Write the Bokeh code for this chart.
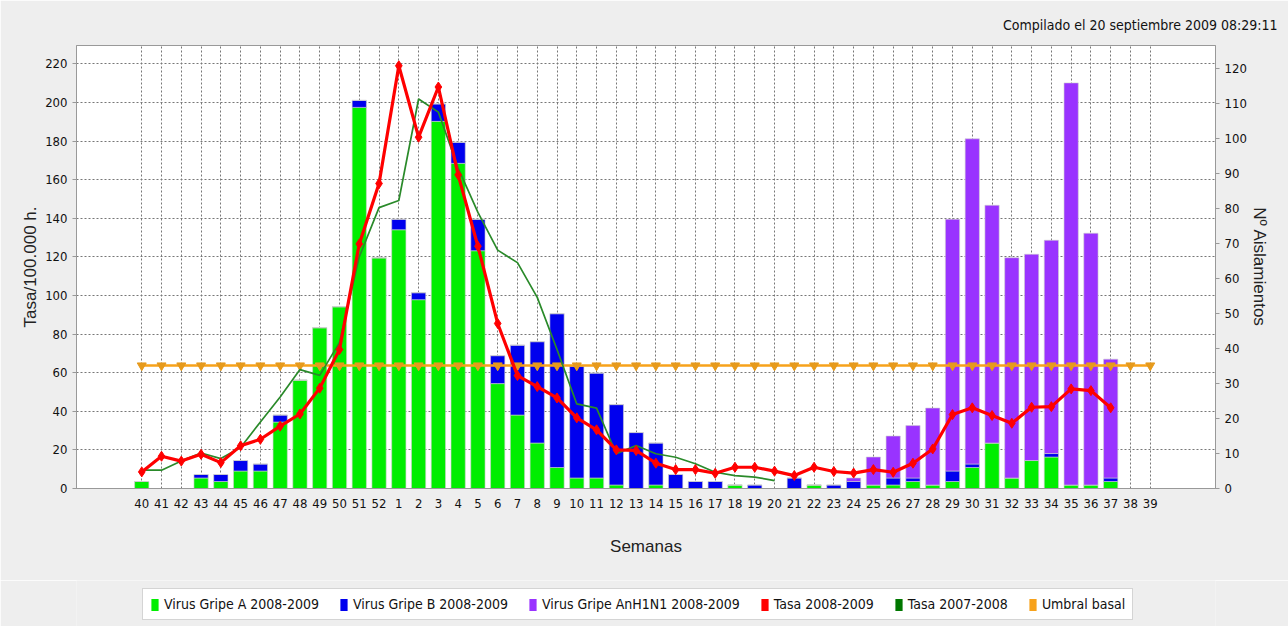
from bokeh.plotting import figure
from bokeh.layouts import column
from bokeh.models import (FactorRange, Range1d, LinearAxis, Legend, LegendItem,
                          SingleIntervalTicker, Title)
from bokeh.embed import file_html
from bokeh.resources import INLINE

semanas = ["40", "41", "42", "43", "44", "45", "46", "47", "48", "49", "50", "51", "52",
           "1", "2", "3", "4", "5", "6", "7", "8", "9", "10", "11", "12", "13", "14",
           "15", "16", "17", "18", "19", "20", "21", "22", "23", "24", "25", "26", "27",
           "28", "29", "30", "31", "32", "33", "34", "35", "36", "37", "38", "39"]

gripe_a = [2, 0, 0, 3, 2, 5, 5, 19, 31, 46, 52, 109, 66,
           74, 54, 105, 93, 68, 30, 21, 13, 6, 3, 3, 1, 0, 1,
           0, 0, 0, 1, 0, 0, 0, 1, 0, 0, 1, 1, 2,
           1, 2, 6, 13, 3, 8, 9, 1, 1, 2, 0, 0]
gripe_b = [0, 0, 0, 1, 2, 3, 2, 2, 0, 0, 0, 2, 0,
           3, 2, 5, 6, 9, 8, 20, 29, 44, 32, 30, 23, 16, 12,
           4, 2, 2, 0, 1, 0, 3, 0, 1, 2, 0, 2, 1,
           0, 3, 1, 0, 0, 0, 1, 0, 0, 1, 0, 0]
gripe_anh1n1 = [0, 0, 0, 0, 0, 0, 0, 0, 0, 0, 0, 0, 0,
                0, 0, 0, 0, 0, 0, 0, 0, 0, 0, 0, 0, 0, 0,
                0, 0, 0, 0, 0, 0, 0, 0, 0, 1, 8, 12, 15,
                22, 72, 93, 68, 63, 59, 61, 115, 72, 34, 0, 0]

semanas_0809 = semanas[:50]
tasa_0809 = [8.6, 16.7, 14.2, 17.7, 13.4, 22.1, 25.5, 32.3, 38.6, 52.0, 72.0, 126.7, 158.0,
             219.0, 182.0, 208.0, 162.5, 125.5, 85.5, 58.5, 52.8, 46.9, 36.6, 30.4, 20.0, 19.7, 13.1,
             9.8, 9.8, 7.9, 11.0, 11.0, 9.0, 6.7, 11.0, 8.8, 8.0, 9.8, 8.4, 13.1,
             20.5, 38.3, 41.8, 37.8, 33.8, 42.1, 42.4, 51.6, 50.7, 41.8]

semanas_0708 = semanas[:33]
tasa_0708 = [9.5, 9.5, 14.3, 18.4, 15.5, 21.2, 34.5, 47.4, 61.6, 58.6, 75.7, 120.0, 145.5,
             149.2, 201.8, 195.0, 166.0, 143.0, 123.5, 117.0, 99.0, 72.0, 43.8, 41.6, 18.0, 22.3, 18.0,
             16.2, 12.8, 8.4, 6.7, 5.9, 4.1]

umbral = [63.7, 63.7, 63.7, 63.7, 63.7, 63.7, 63.7, 63.7, 63.7, 63.7, 63.7, 63.7, 63.7,
          63.7, 63.7, 63.7, 63.7, 63.7, 63.7, 63.7, 63.7, 63.7, 63.7, 63.7, 63.7, 63.7, 63.7,
          63.7, 63.7, 63.7, 63.7, 63.7, 63.7, 63.7, 63.7, 63.7, 63.7, 63.7, 63.7, 63.7,
          63.7, 63.7, 63.7, 63.7, 63.7, 63.7, 63.7, 63.7, 63.7, 63.7, 63.7, 63.7]

legend_labels = ["Virus Gripe A 2008-2009", "Virus Gripe B 2008-2009",
                 "Virus Gripe AnH1N1 2008-2009", "Tasa 2008-2009",
                 "Tasa 2007-2008", "Umbral basal"]

C_A = "#00ee00"
C_B = "#0000ee"
C_H = "#9933ff"
C_RED = "#ff0000"
C_DG = "#2a8a2a"
C_OR = "#f7a21b"
legend_colors = [C_A, C_B, C_H, C_RED, "#007700", C_OR]

TICK_FONT = "DejaVu Sans Condensed, Liberation Sans, sans-serif"
LABEL_FONT = "Liberation Sans"
BG = "#eeeeee"

p = figure(x_range=FactorRange(factors=semanas, range_padding=2.8, range_padding_units="absolute"),
           y_range=Range1d(0, 229.5),
           frame_width=1139, frame_height=443,
           min_border_left=76, min_border_right=73, min_border_top=45, min_border_bottom=92,
           output_backend="svg", toolbar_location=None,
           background_fill_color="white", border_fill_color=BG,
           outline_line_color="#999999", outline_line_width=1)

p.extra_y_ranges = {"n": Range1d(0, 126.7)}

# stacked bars on right axis (counts)
data = {"semanas": semanas, "A": gripe_a, "B": gripe_b, "H": gripe_anh1n1}
p.vbar_stack(["A", "B", "H"], x="semanas", width=0.72, source=data,
             color=[C_A, C_B, C_H], line_color="#cfcfcf", line_width=0.6,
             y_range_name="n")

# umbral basal
p.line(semanas, umbral, color=C_OR, line_width=2.5)
p.scatter(semanas, umbral, marker="inverted_triangle", size=9, color="#e69a1c")

# tasa 2007-2008
p.line(semanas_0708, tasa_0708, color=C_DG, line_width=1.7)

# tasa 2008-2009
p.line(semanas_0809, tasa_0809, color=C_RED, line_width=3.2)
p.scatter(semanas_0809, tasa_0809, marker="diamond", size=10, color=C_RED)

# axes
p.yaxis.ticker = SingleIntervalTicker(interval=20)
p.yaxis.axis_label = "Tasa/100.000 h."
ax_r = LinearAxis(y_range_name="n", ticker=SingleIntervalTicker(interval=10),
                  axis_label="Nº Aislamientos")
p.add_layout(ax_r, "right")

for ax in [p.yaxis[0], ax_r]:
    ax.axis_label_text_font = LABEL_FONT
    ax.axis_label_text_font_size = "17px"
    ax.axis_label_text_font_style = "normal"
    ax.axis_label_text_color = "#222222"
    ax.major_label_text_font = TICK_FONT
    ax.major_label_text_font_size = "13px"
    ax.major_label_text_color = "#111111"
    ax.axis_line_color = "#999999"
    ax.major_tick_line_color = "#999999"
    ax.major_tick_in = 0
    ax.major_tick_out = 4
    ax.minor_tick_line_color = None
p.yaxis[0].axis_label_standoff = 2
ax_r.axis_label_standoff = 0

p.xaxis.axis_label = "Semanas"
p.xaxis.axis_label_text_font = LABEL_FONT
p.xaxis.axis_label_text_font_size = "17px"
p.xaxis.axis_label_text_font_style = "normal"
p.xaxis.axis_label_text_color = "#222222"
p.xaxis.axis_label_standoff = 26
p.xaxis.major_label_text_font = TICK_FONT
p.xaxis.major_label_text_font_size = "13px"
p.xaxis.major_label_text_color = "#111111"
p.xaxis.axis_line_color = "#999999"
p.xaxis.major_tick_line_color = None
p.xaxis.major_label_standoff = 4

# grids
p.xgrid.grid_line_color = "#777777"
p.xgrid.grid_line_dash = "2 2"
p.ygrid.grid_line_color = "#777777"
p.ygrid.grid_line_dash = "2 2"

# title
t = Title(text="Compilado el 20 septiembre 2009 08:29:11", align="right",
          text_font=TICK_FONT, text_font_size="14px", text_font_style="normal",
          text_color="#111111", offset=-62, standoff=25)
p.add_layout(t, "above")

# legend strip (separate figure under the chart)
leg = figure(width=1288, height=46, x_range=Range1d(0, 1), y_range=Range1d(0, 1),
             x_axis_type=None, y_axis_type=None, min_border=0,
             output_backend="svg", toolbar_location=None,
             background_fill_color=BG, border_fill_color=BG, outline_line_color=None)
leg.xgrid.visible = False
leg.ygrid.visible = False
items = []
for lab, col in zip(legend_labels, legend_colors):
    # zero-height proxy bar: invisible in the strip, gives a coloured swatch in the legend
    r = leg.vbar(x=[0.5], top=[0], bottom=[0], width=0.01, fill_color=col, line_color=None)
    items.append(LegendItem(label=lab, renderers=[r]))

legend = Legend(items=items, orientation="horizontal", location=(66, 6),
                label_text_font=TICK_FONT, label_text_font_size="14px", label_text_color="#111111",
                glyph_width=9, glyph_height=15, label_standoff=5, spacing=20,
                padding=7, margin=0, border_line_color="#aaaaaa", background_fill_color="white",
                label_height=15)
leg.add_layout(legend)

layout = column(p, leg, spacing=0)

open("out.html", "w").write(file_html(layout, INLINE))
